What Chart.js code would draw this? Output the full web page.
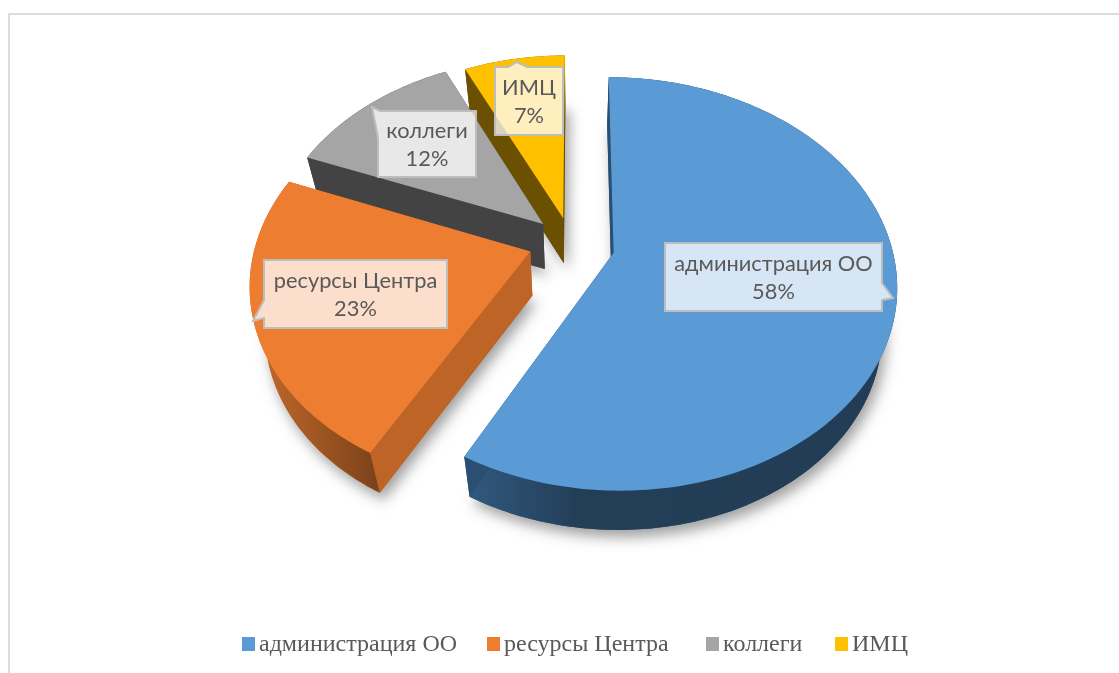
<!DOCTYPE html>
<html><head><meta charset="utf-8">
<script src="https://cdn.jsdelivr.net/npm/chart.js@4/dist/chart.umd.min.js"></script>
<style>
html,body{margin:0;padding:0;background:#fff;overflow:hidden}
#wrap{position:relative;width:1119px;height:673px}
#frame{position:absolute;left:8px;top:13px;right:0;bottom:0;border-left:2px solid #dcdcdc;border-top:2px solid #dcdcdc}
canvas{position:absolute;left:0;top:0}
</style></head><body>
<div id="wrap"><div id="frame"></div><canvas id="c" width="1119" height="673"></canvas></div>
<script>
const categories = ['администрация ОО', 'ресурсы Центра', 'коллеги', 'ИМЦ'];
const shares = [58, 23, 12, 7];
const colors = ['#5B9BD5', '#ED7D31', '#A5A5A5', '#FFC000'];
const explode = [27, 34, 34, 32];

// Projection constants of the tilted pie
const KX = 1.39, PERSP = 0.15, XK = 0.953, DEPTH = 0.021, VY = 2360;
const nudgeU = [0.004, -0.004, 0.004, -0.012];
const nudgeV = [0, -0.03, 0.005, 0.015];
const radiusScale = [1, 0.99, 0.985, 0.97];
const radialWall = ['#2A4F73', '#BF6427', '#434343', '#6A5000'];
const outerWall = [
  [[467, '#31597F'], [575, '#233F58'], [900, '#223C54']],
  [[255, '#C46A2B'], [375, '#7D431A']],
  [[300, '#434343'], [560, '#434343']],
  [[460, '#6A5000'], [570, '#6A5000']]
];
const boxes = [
  {x:665,y:243,w:217,h:68,outline:[[665,243],[882,243],[882,283],[893,298],[882,300],[882,311],[665,311]]},
  {x:264,y:260,w:183,h:68,outline:[[264,260],[447,260],[447,328],[264,328],[264,318],[253,321],[264,300]]},
  {x:378,y:111,w:98,h:66,outline:[[380,111],[476,111],[476,177],[378,177],[378,138],[372,107]]},
  {x:495,y:67,w:68,h:68,outline:[[495,67],[508,67],[517,62],[527,67],[563,67],[563,135],[495,135]]}
];
const legendX = [242, 487, 706, 835];

function projector(arc, i) {
  const R = arc.outerRadius, Rx = R * KX, Ry = R, s = radiusScale[i];
  const mid = (arc.startAngle + arc.endAngle) / 2;
  const e = (arc.options.offset || 0) / R;
  const cu = e * Math.cos(mid) + nudgeU[i], cv = e * Math.sin(mid) + nudgeV[i];
  const top = (ang) => {
    const u = cu + s * Math.cos(ang), v = cv + s * Math.sin(ang);
    const w = 1 - PERSP * v;
    return [arc.x + Rx * u / w, arc.y + Ry * v / w];
  };
  const apex = () => {
    const w = 1 - PERSP * cv;
    return [arc.x + Rx * cu / w, arc.y + Ry * cv / w];
  };
  const low = (p) => [arc.x + (p[0] - arc.x) * XK, p[1] + (VY - p[1]) * DEPTH];
  return {top, apex, low};
}
function trace(ctx, pts) {
  ctx.beginPath();
  pts.forEach((p, k) => k ? ctx.lineTo(p[0], p[1]) : ctx.moveTo(p[0], p[1]));
  ctx.closePath();
}
function poly(ctx, pts, fill) {
  trace(ctx, pts);
  ctx.fillStyle = fill;
  ctx.fill();
}
const pie3d = {
  id: 'pie3d',
  beforeDatasetDraw(chart, args) {
    const ctx = chart.ctx;
    const arcs = chart.getDatasetMeta(args.index).data;
    for (let i = arcs.length - 1; i >= 0; i--) {
      const arc = arcs[i];
      const P = projector(arc, i);
      const n = Math.max(4, Math.ceil((arc.endAngle - arc.startAngle) * 60));
      const rim = [];
      for (let k = 0; k <= n; k++) rim.push(P.top(arc.startAngle + (arc.endAngle - arc.startAngle) * k / n));
      const a = P.apex();
      const topFace = [a, ...rim];
      const lowFace = topFace.map(P.low);
      ctx.save();
      ctx.shadowColor = 'rgba(0,0,0,0.38)';
      ctx.shadowBlur = 14;
      ctx.shadowOffsetX = 4;
      ctx.shadowOffsetY = 7;
      poly(ctx, lowFace, radialWall[i]);
      ctx.restore();
      const stops = outerWall[i];
      const x0 = stops[0][0], x1 = stops[stops.length - 1][0];
      const g = ctx.createLinearGradient(x0, 0, x1, 0);
      stops.forEach(s => g.addColorStop((s[0] - x0) / (x1 - x0), s[1]));
      poly(ctx, [...rim, ...rim.map(P.low).reverse()], g);
      poly(ctx, [a, rim[0], P.low(rim[0]), P.low(a)], radialWall[i]);
      poly(ctx, [a, rim[n], P.low(rim[n]), P.low(a)], radialWall[i]);
      poly(ctx, topFace, arc.options.backgroundColor);
    }
    return false;
  },
  afterDatasetsDraw(chart) {
    const ctx = chart.ctx;
    const labels = chart.data.labels, vals = chart.data.datasets[0].data;
    const total = vals.reduce((s, v) => s + v, 0);
    labels.forEach((name, i) => {
      const b = boxes[i];
      trace(ctx, b.outline);
      ctx.fillStyle = 'rgba(255,255,255,0.75)';
      ctx.fill();
      ctx.strokeStyle = '#BDBDBD';
      ctx.lineWidth = 2;
      ctx.stroke();
      ctx.fillStyle = '#595959';
      ctx.font = '21.8px Lato';
      ctx.textAlign = 'center';
      ctx.textBaseline = 'middle';
      const cx = b.x + b.w / 2, cy = b.y + b.h / 2;
      ctx.fillText(name, cx, cy - 13);
      ctx.fillText(Math.round(vals[i] / total * 100) + '%', cx, cy + 15);
    });
    ctx.font = '24px "Liberation Serif"';
    ctx.textAlign = 'left';
    ctx.textBaseline = 'middle';
    labels.forEach((name, i) => {
      ctx.fillStyle = colors[i];
      ctx.fillRect(legendX[i], 637, 13, 14);
      ctx.fillStyle = '#595959';
      ctx.fillText(name, legendX[i] + 17, 645);
    });
  }
};
new Chart(document.getElementById('c'), {
  type: 'pie',
  data: {
    labels: categories,
    datasets: [{data: shares, backgroundColor: colors, offset: explode, borderWidth: 0}]
  },
  options: {
    responsive: false,
    animation: false,
    radius: 200,
    rotation: 0,
    layout: {padding: {left: 33, bottom: 181}},
    plugins: {legend: {display: false}, tooltip: {enabled: false}}
  },
  plugins: [pie3d]
});
</script>
</body></html>
